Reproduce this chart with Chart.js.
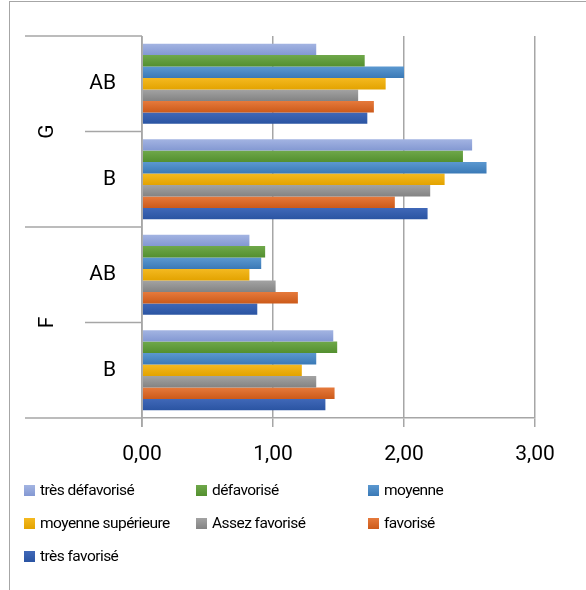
<!DOCTYPE html>
<html>
<head>
<meta charset="utf-8">
<script src="https://cdn.jsdelivr.net/npm/chart.js@4.4.1/dist/chart.umd.min.js"></script>
<style>
  html, body { margin: 0; padding: 0; background: #fff; }
  #wrap { position: relative; width: 586px; height: 590px; overflow: hidden; }
  #frame { position: absolute; left: 9px; top: 1px; width: 600px; height: 600px;
           border-left: 1.5px solid #a6a6a6; border-top: 1.5px solid #a6a6a6; }
  canvas { position: absolute; left: 0; top: 0; }
  #legend { position: absolute; left: 24px; top: 480px; width: 540px;
            display: grid; grid-template-columns: 172px 172px 172px; row-gap: 13px;
            font-family: Roboto, sans-serif; font-size: 15.5px; letter-spacing: -0.55px; color: #000; }
  .item { display: flex; align-items: center; height: 20px; white-space: nowrap; }
  .box { width: 11px; height: 11px; margin-right: 5px; flex: none; }
</style>
</head>
<body>
<div id="wrap">
  <div id="frame"></div>
  <canvas id="chart" width="586" height="590"></canvas>
  <div id="legend"></div>
</div>
<script>
// categories, top to bottom
const groups = ['G', 'G', 'F', 'F'];
const categories = ['AB', 'B', 'AB', 'B'];
const xTicks = [0, 1, 2, 3];

const seriesNames = ['très défavorisé', 'défavorisé', 'moyenne', 'moyenne supérieure',
                     'Assez favorisé', 'favorisé', 'très favorisé'];
const seriesColors = [
    ['#a3b4e2', '#8398d2'],
    ['#6fa84a', '#538f2f'],
    ['#5b98d0', '#3a79b6'],
    ['#f4b920', '#e3a300'],
    ['#a3a3a3', '#838383'],
    ['#e67a3c', '#cc5a1a'],
    ['#4068b8', '#2a54a2']
];

// values per series: G-AB, G-B, F-AB, F-B
const tresDefavorise = [1.33, 2.52, 0.82, 1.46];
const defavorise     = [1.70, 2.45, 0.94, 1.49];
const moyenne        = [2.00, 2.63, 0.91, 1.33];
const moyenneSup     = [1.86, 2.31, 0.82, 1.22];
const assezFavorise  = [1.65, 2.20, 1.02, 1.33];
const favorise       = [1.77, 1.93, 1.19, 1.47];
const tresFavorise   = [1.72, 2.18, 0.88, 1.40];
const seriesValues = [tresDefavorise, defavorise, moyenne, moyenneSup,
                      assezFavorise, favorise, tresFavorise];

function barFill(i) {
    return (ctx) => {
        const el = ctx.element;
        const c = seriesColors[i];
        if (!el) return c[1];
        const p = el.getProps(['y', 'height'], true);
        if (!isFinite(p.y) || !p.height) return c[1];
        const g = ctx.chart.ctx.createLinearGradient(0, p.y - p.height / 2, 0, p.y + p.height / 2);
        g.addColorStop(0, c[0]);
        g.addColorStop(1, c[1]);
        return g;
    };
}

const datasets = seriesNames.map((name, i) => ({
    label: name,
    data: seriesValues[i],
    backgroundColor: barFill(i),
    borderWidth: 0,
    barPercentage: 1.0,
    categoryPercentage: 0.84
}));

const LINE = '#a6a6a6';

// group axis (G / F) with separators
const groupAxis = {
    id: 'groupAxis',
    afterDraw(chart) {
        const { ctx, chartArea, scales } = chart;
        const y = scales.y;
        const step = y.getPixelForValue(1) - y.getPixelForValue(0);
        ctx.save();
        ctx.strokeStyle = LINE;
        ctx.lineWidth = 1.5;
        // y axis line (extends a little below)
        ctx.beginPath();
        ctx.moveTo(chartArea.left, chartArea.top);
        ctx.lineTo(chartArea.left, chartArea.bottom + 9);
        ctx.stroke();
        for (let i = 0; i <= categories.length; i++) {
            const py = y.getPixelForValue(i) - step / 2;
            const outer = i === 0 || i === categories.length || groups[i] !== groups[i - 1];
            ctx.beginPath();
            ctx.moveTo(outer ? 25 : 85, py);
            ctx.lineTo(chartArea.left, py);
            ctx.stroke();
        }
        ctx.fillStyle = '#000';
        ctx.font = '21px Roboto';
        ctx.textAlign = 'center';
        ctx.textBaseline = 'middle';
        let start = 0;
        for (let i = 1; i <= groups.length; i++) {
            if (i === groups.length || groups[i] !== groups[start]) {
                const cy = (y.getPixelForValue(start) + y.getPixelForValue(i - 1)) / 2;
                ctx.save();
                ctx.translate(48, cy);
                ctx.rotate(-Math.PI / 2);
                ctx.fillText(groups[start], 0, 0);
                ctx.restore();
                start = i;
            }
        }
        ctx.restore();
    }
};

const chart = new Chart(document.getElementById('chart'), {
    type: 'bar',
    data: { labels: categories, datasets },
    options: {
        indexAxis: 'y',
        responsive: false,
        animation: false,
        layout: { padding: { left: 0, top: 36, right: 51, bottom: 0 } },
        plugins: { legend: { display: false }, tooltip: { enabled: false } },
        scales: {
            x: {
                min: 0, max: 3,
                afterBuildTicks: (s) => { s.ticks = xTicks.map(v => ({ value: v })); },
                afterFit: (s) => { s.height = 172; },
                grid: { color: LINE, lineWidth: 1.5, tickLength: 9, drawOnChartArea: true },
                border: { color: LINE, width: 1.5 },
                ticks: {
                    color: '#000', padding: 15,
                    font: { family: 'Roboto', size: 21 },
                    callback: (v) => Number(v).toFixed(2).replace('.', ',')
                }
            },
            y: {
                afterFit: (s) => { s.width = 142; },
                grid: { display: false },
                border: { display: false },
                ticks: {
                    color: '#000', padding: 18,
                    font: { family: 'Roboto', size: 21 }
                }
            }
        }
    },
    plugins: [groupAxis]
});
// second pass so the bar gradients can see the bar geometry
chart.update('none');

// legend
const legend = document.getElementById('legend');
seriesNames.forEach((name, i) => {
    const item = document.createElement('div');
    item.className = 'item';
    item.innerHTML = `<span class="box" style="background: linear-gradient(${seriesColors[i][0]}, ${seriesColors[i][1]})"></span><span>${name}</span>`;
    legend.appendChild(item);
});
</script>
</body>
</html>
